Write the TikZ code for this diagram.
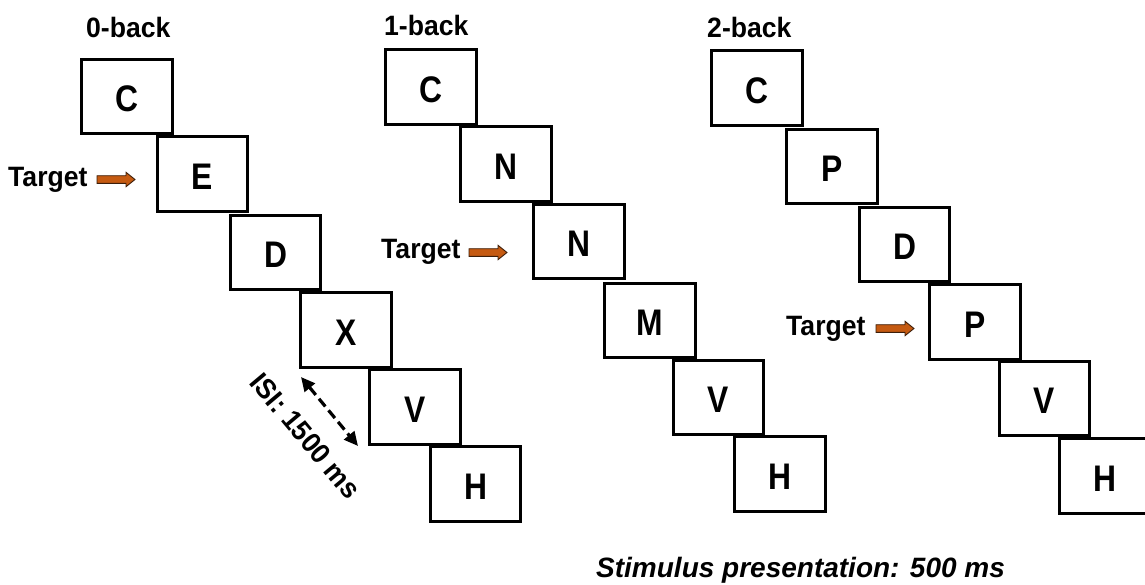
\documentclass[tikz,border=0pt]{standalone}
\usepackage{fontspec}
\setmainfont{Liberation Sans}
\newfontfamily\letterfont[FakeStretch=0.86]{Liberation Sans}
\newfontfamily\labelfont[FakeStretch=0.95]{Liberation Sans}
\usetikzlibrary{arrows.meta}
\definecolor{arrowfill}{RGB}{197,90,17}
\definecolor{arrowedge}{RGB}{60,30,10}
% block arrow pointing right, tail centred on the named coordinate
\newcommand{\targetarrow}[3]{%
  \coordinate (#1) at (#2,#3);
  \draw[tgtarrow] (#1) ++(0,-3.8) -- ++(29,0) -- ++(0,-3.4) -- ++(9,7.2)
    -- ++(-9,7.2) -- ++(0,-3.4) -- ++(-29,0) -- cycle;}
\begin{document}
\begin{tikzpicture}[x=1pt,y=-1pt,
  stim/.style={draw, line width=3.4pt, fill=white, minimum width=90.5pt, minimum height=74.5pt,
    inner sep=0pt, font=\fontsize{37}{42}\letterfont\bfseries, text height=30pt, text depth=0pt},
  cond/.style={anchor=base west, inner sep=0pt, font=\fontsize{28}{32}\labelfont\bfseries},
  tgtarrow/.style={draw=arrowedge, fill=arrowfill, line width=0.9pt, line join=miter},
  isi/.style={dash pattern=on 10pt off 5pt, line width=3.2pt,
    {Stealth[length=14pt,width=13pt,inset=0pt]}-{Stealth[length=14pt,width=13pt,inset=0pt]}}
]
\useasboundingbox (0,0) rectangle (1145,584);

% 0-back sequence
\node[cond] (lab0) at (86,37) {0-back};
\node[stim] (a1) at (127,96.5) {C};
\node[stim] (a2) at (202.5,174) {E};
\node[stim] (a3) at (275.5,252.5) {D};
\node[stim] (a4) at (346,330) {X};
\node[stim] (a5) at (415,407) {V};
\node[stim] (a6) at (475.5,484) {H};
\node[cond] (tgt0) at (8,186) {Target};
\targetarrow{arr0}{97}{179.5}

% inter-stimulus interval
\coordinate (isiA) at (301,377);
\coordinate (isiB) at (358,446);
\draw[isi] (isiA) -- (isiB);
\node[rotate=-50, inner sep=0pt, font=\fontsize{28}{32}\labelfont\bfseries] (isitext) at (305.5,436) {ISI: 1500 ms};

% 1-back sequence
\node[cond] (lab1) at (384,35) {1-back};
\node[stim] (b1) at (431,87) {C};
\node[stim] (b2) at (506,164) {N};
\node[stim] (b3) at (579,241.5) {N};
\node[stim] (b4) at (650,320.5) {M};
\node[stim] (b5) at (718.5,397.5) {V};
\node[stim] (b6) at (780,474) {H};
\node[cond] (tgt1) at (381,258) {Target};
\targetarrow{arr1}{469}{252.5}

% 2-back sequence
\node[cond] (lab2) at (707,37) {2-back};
\node[stim] (c1) at (757,88) {C};
\node[stim] (c2) at (832,166.5) {P};
\node[stim] (c3) at (904.5,244.5) {D};
\node[stim] (c4) at (975,322) {P};
\node[stim] (c5) at (1044.5,398.5) {V};
\node[stim] (c6) at (1105,476) {H};
\node[cond] (tgt2) at (786,335) {Target};
\targetarrow{arr2}{876}{328.5}

% stimulus duration
\node[anchor=base west, inner sep=0pt, font=\fontsize{28}{32}\selectfont\bfseries\itshape] (dur) at (596,577) {Stimulus presentation: 500 ms};
\end{tikzpicture}
\end{document}
